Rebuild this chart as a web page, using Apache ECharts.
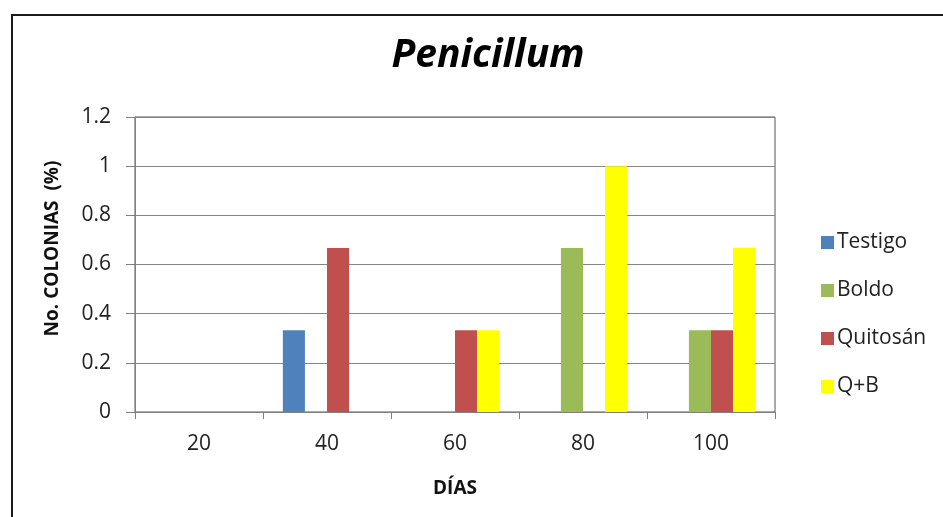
<!DOCTYPE html>
<html>
<head>
<meta charset="utf-8">
<script src="https://cdn.jsdelivr.net/npm/echarts@6/dist/echarts.min.js"></script>
<style>
  html, body { margin: 0; padding: 0; background: #fff; }
  #chart { width: 943px; height: 517px; }
</style>
</head>
<body>
<div id="chart"></div>
<script>
// Days of observation and colony percentages per treatment
const dias = ['20', '40', '60', '80', '100'];
const testigo = [0, 0.333, 0, 0, 0];
const boldo = [0, 0, 0, 0.667, 0.333];
const quitosan = [0, 0.667, 0.333, 0, 0.333];
const qb = [0, 0, 0.333, 1, 0.667];
const seriesNames = ['Testigo', 'Boldo', 'Quitosán', 'Q+B'];
const seriesColors = ['#4F81BD', '#9BBB59', '#C0504D', '#FFFF00'];
const yTicks = { min: 0, max: 1.2, interval: 0.2 };

const FONT = '"Open Sans", Lato, sans-serif';
const chart = echarts.init(document.getElementById('chart'), null, { renderer: 'canvas' });

const values = [testigo, boldo, quitosan, qb];

chart.setOption({
  animation: false,
  backgroundColor: '#fff',
  textStyle: { fontFamily: FONT },
  graphic: [{
    type: 'rect',
    shape: { x: 12, y: 15, width: 1000, height: 600 },
    style: { fill: 'none', stroke: '#1a1a1a', lineWidth: 2 },
    silent: true,
    z: 100
  }],
  title: {
    text: 'Penicillum',
    left: 483,
    top: 31,
    textAlign: 'center',
    textStyle: { fontFamily: FONT, fontSize: 39, fontWeight: 'bold', fontStyle: 'italic', color: '#000' }
  },
  legend: {
    orient: 'vertical',
    left: 816,
    top: 227,
    itemWidth: 13,
    itemHeight: 13,
    itemGap: 27,
    icon: 'rect',
    data: seriesNames,
    textStyle: { fontFamily: FONT, fontSize: 21, color: '#222', padding: [0, 0, 0, -2] }
  },
  grid: {
    left: 135, top: 117, right: 168, bottom: 105,
    show: true, borderColor: '#555', borderWidth: 1, backgroundColor: '#fff'
  },
  xAxis: {
    type: 'category',
    data: dias,
    name: 'DÍAS',
    nameLocation: 'middle',
    nameGap: 67,
    nameTextStyle: { fontFamily: FONT, fontSize: 19, fontWeight: 'bold', color: '#111' },
    axisLine: { lineStyle: { color: '#808080', width: 1 } },
    axisTick: { show: true, length: 7, lineStyle: { color: '#808080' } },
    axisLabel: { fontFamily: FONT, fontSize: 21, color: '#222', margin: 22 }
  },
  yAxis: {
    type: 'value',
    min: yTicks.min, max: yTicks.max, interval: yTicks.interval,
    name: 'No. COLONIAS  (%)',
    nameLocation: 'middle',
    nameGap: 73,
    nameRotate: 90,
    nameTextStyle: { fontFamily: FONT, fontSize: 19, fontWeight: 'bold', color: '#111', padding: [0, 0, 0, 32] },
    axisLine: { show: true, lineStyle: { color: '#808080', width: 1 } },
    axisTick: { show: true, length: 9, lineStyle: { color: '#808080' } },
    splitLine: { lineStyle: { color: '#868686', width: 1 } },
    axisLabel: {
      fontFamily: FONT, fontSize: 21, color: '#222', margin: 24,
      formatter: v => String(Math.round(v * 10) / 10)
    }
  },
  series: seriesNames.map((name, i) => ({
    name,
    type: 'bar',
    data: values[i],
    barGap: '0%',
    barCategoryGap: '31%',
    itemStyle: { color: seriesColors[i] }
  }))
});
</script>
</body>
</html>
